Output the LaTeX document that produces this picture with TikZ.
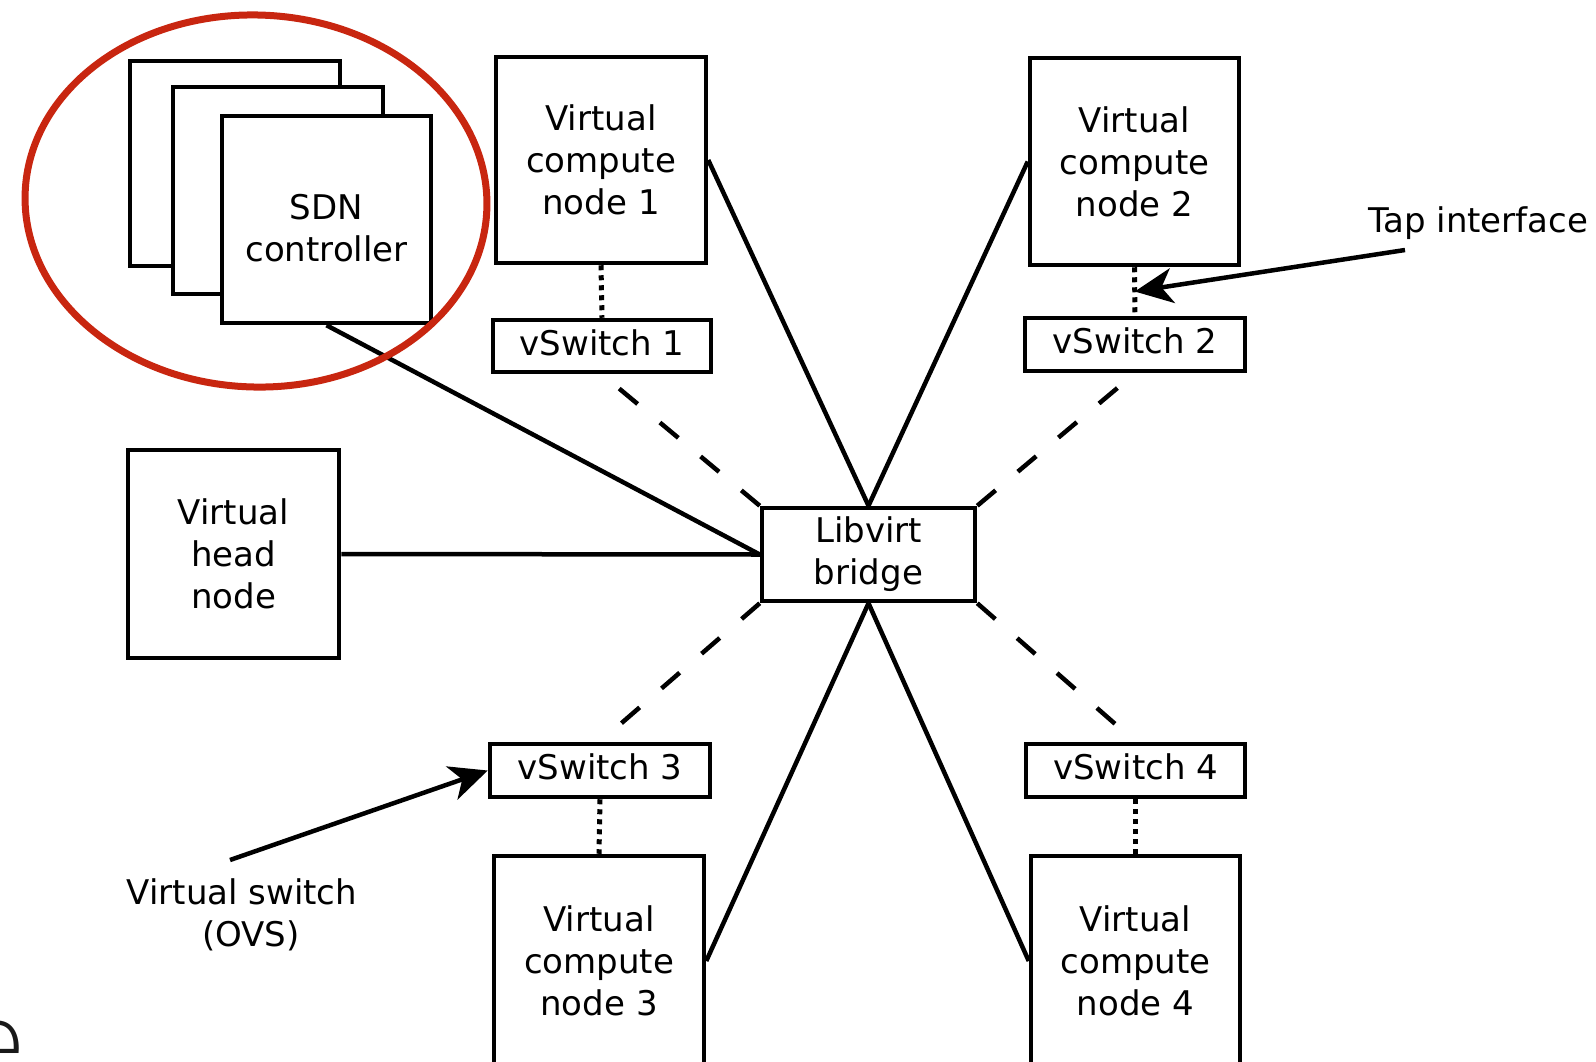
\documentclass[tikz,border=0pt]{standalone}
\usepackage{fontspec}
\setmainfont{DejaVu Sans}
\newfontfamily\thinfont{Fira Sans ExtraLight}
\usetikzlibrary{arrows.meta,calc}
\definecolor{markred}{RGB}{200,38,16}

\begin{document}
\begin{tikzpicture}[x=1pt,y=-1pt,
  every node/.style={font=\fontsize{34}{42}\selectfont, inner sep=0pt, align=center},
  box/.style={draw, line width=4.5pt, minimum width=210pt, minimum height=206pt},
  switchbox/.style={draw, line width=4.5pt, minimum width=218pt, minimum height=52pt,
    text height=18pt, text depth=0pt},
  link/.style={line width=4.5pt},
  dashlink/.style={line width=4.5pt, dash pattern=on 24pt off 29pt},
  dotlink/.style={line width=5pt, dash pattern=on 5pt off 5pt},
  callout/.style={line width=4.5pt, -{Stealth[length=38pt,width=35pt,inset=11pt]}},
]
\useasboundingbox (0,0) rectangle (1596,1061);

% stacked SDN controllers
\node[box, fill=white, minimum height=205pt] (sdnback) at (235,163.5) {};
\node[box, fill=white, minimum height=207pt] (sdnmid) at (278,190.5) {};
\node[box, fill=white, minimum width=209pt, minimum height=207pt] (sdn) at (326.5,219.5) {};
\node (sdntext) at (326.5,228) {SDN\\controller};

% compute and head nodes
\node[box] (vcn1) at (601,160) {Virtual\\compute\\node 1};
\node[box, minimum width=209pt, minimum height=207pt] (vcn2) at (1134.5,161.5) {Virtual\\compute\\node 2};
\node[box, minimum width=211pt, minimum height=208pt] (vhn) at (233.5,554) {Virtual\\head\\node};
\node[box, minimum height=210pt] (vcn3) at (599,961) {Virtual\\compute\\node 3};
\node[box, minimum width=209pt, minimum height=210pt] (vcn4) at (1135.5,961) {Virtual\\compute\\node 4};

% bridge and switches
\node[draw, line width=4.5pt, minimum width=213pt, minimum height=93pt] (bridge) at (868.5,554.5) {Libvirt\\bridge};
\node[switchbox] (vs1) at (602,346) {vSwitch 1};
\node[switchbox, minimum width=220pt, minimum height=53pt] (vs2) at (1135,344.5) {vSwitch 2};
\node[switchbox, minimum width=220pt, minimum height=53pt] (vs3) at (600,770.5) {vSwitch 3};
\node[switchbox, minimum width=219pt, minimum height=53pt] (vs4) at (1135.5,770.5) {vSwitch 4};

% wired links to the bridge
\draw[link] (sdn.south) -- (bridge.west);
\draw[link] (vhn.east) -- (bridge.west);
\draw[link] (bridge.north) -- (vcn1.east);
\draw[link] (bridge.north) -- (vcn2.west);
\draw[link] (bridge.south) -- (vcn3.east);
\draw[link] (bridge.south) -- (vcn4.west);

% switch uplinks
\draw[dashlink] (bridge.north west) -- (vs1.south);
\draw[dashlink] (bridge.north east) -- (vs2.south);
\draw[dashlink] (bridge.south west) -- (vs3.north);
\draw[dashlink] (bridge.south east) -- (vs4.north);

% tap interfaces
\draw[dotlink] (vcn1.south) -- (vs1.north);
\draw[dotlink] (vcn2.south) -- (vs2.north);
\draw[dotlink] (vs3.south) -- (vcn3.north);
\draw[dotlink] (vs4.south) -- (vcn4.north);

% annotations
\node[anchor=base west] (taplabel) at (1368,232) {Tap interface};
\coordinate (tapstart) at (1405,250);
\coordinate (tap) at ($(vcn2.south)!0.5!(vs2.north)$);
\draw[callout] (tapstart) -- (tap);

\node (ovslabel) at (242,915) {Virtual switch\\\hspace*{18pt}(OVS)};
\coordinate (ovsstart) at (230,860);
\draw[callout] (ovsstart) -- (vs3.west);

% highlight round the controllers
\draw[markred, line width=7pt, rotate around={-2:(256,201)}] (256,201) ellipse [x radius=231, y radius=186];

% edge of a larger heading
\node[font=\thinfont\fontsize{112}{112}\selectfont, anchor=base east, text=black!90] (heading) at (26,1080) {e};
\end{tikzpicture}
\end{document}
